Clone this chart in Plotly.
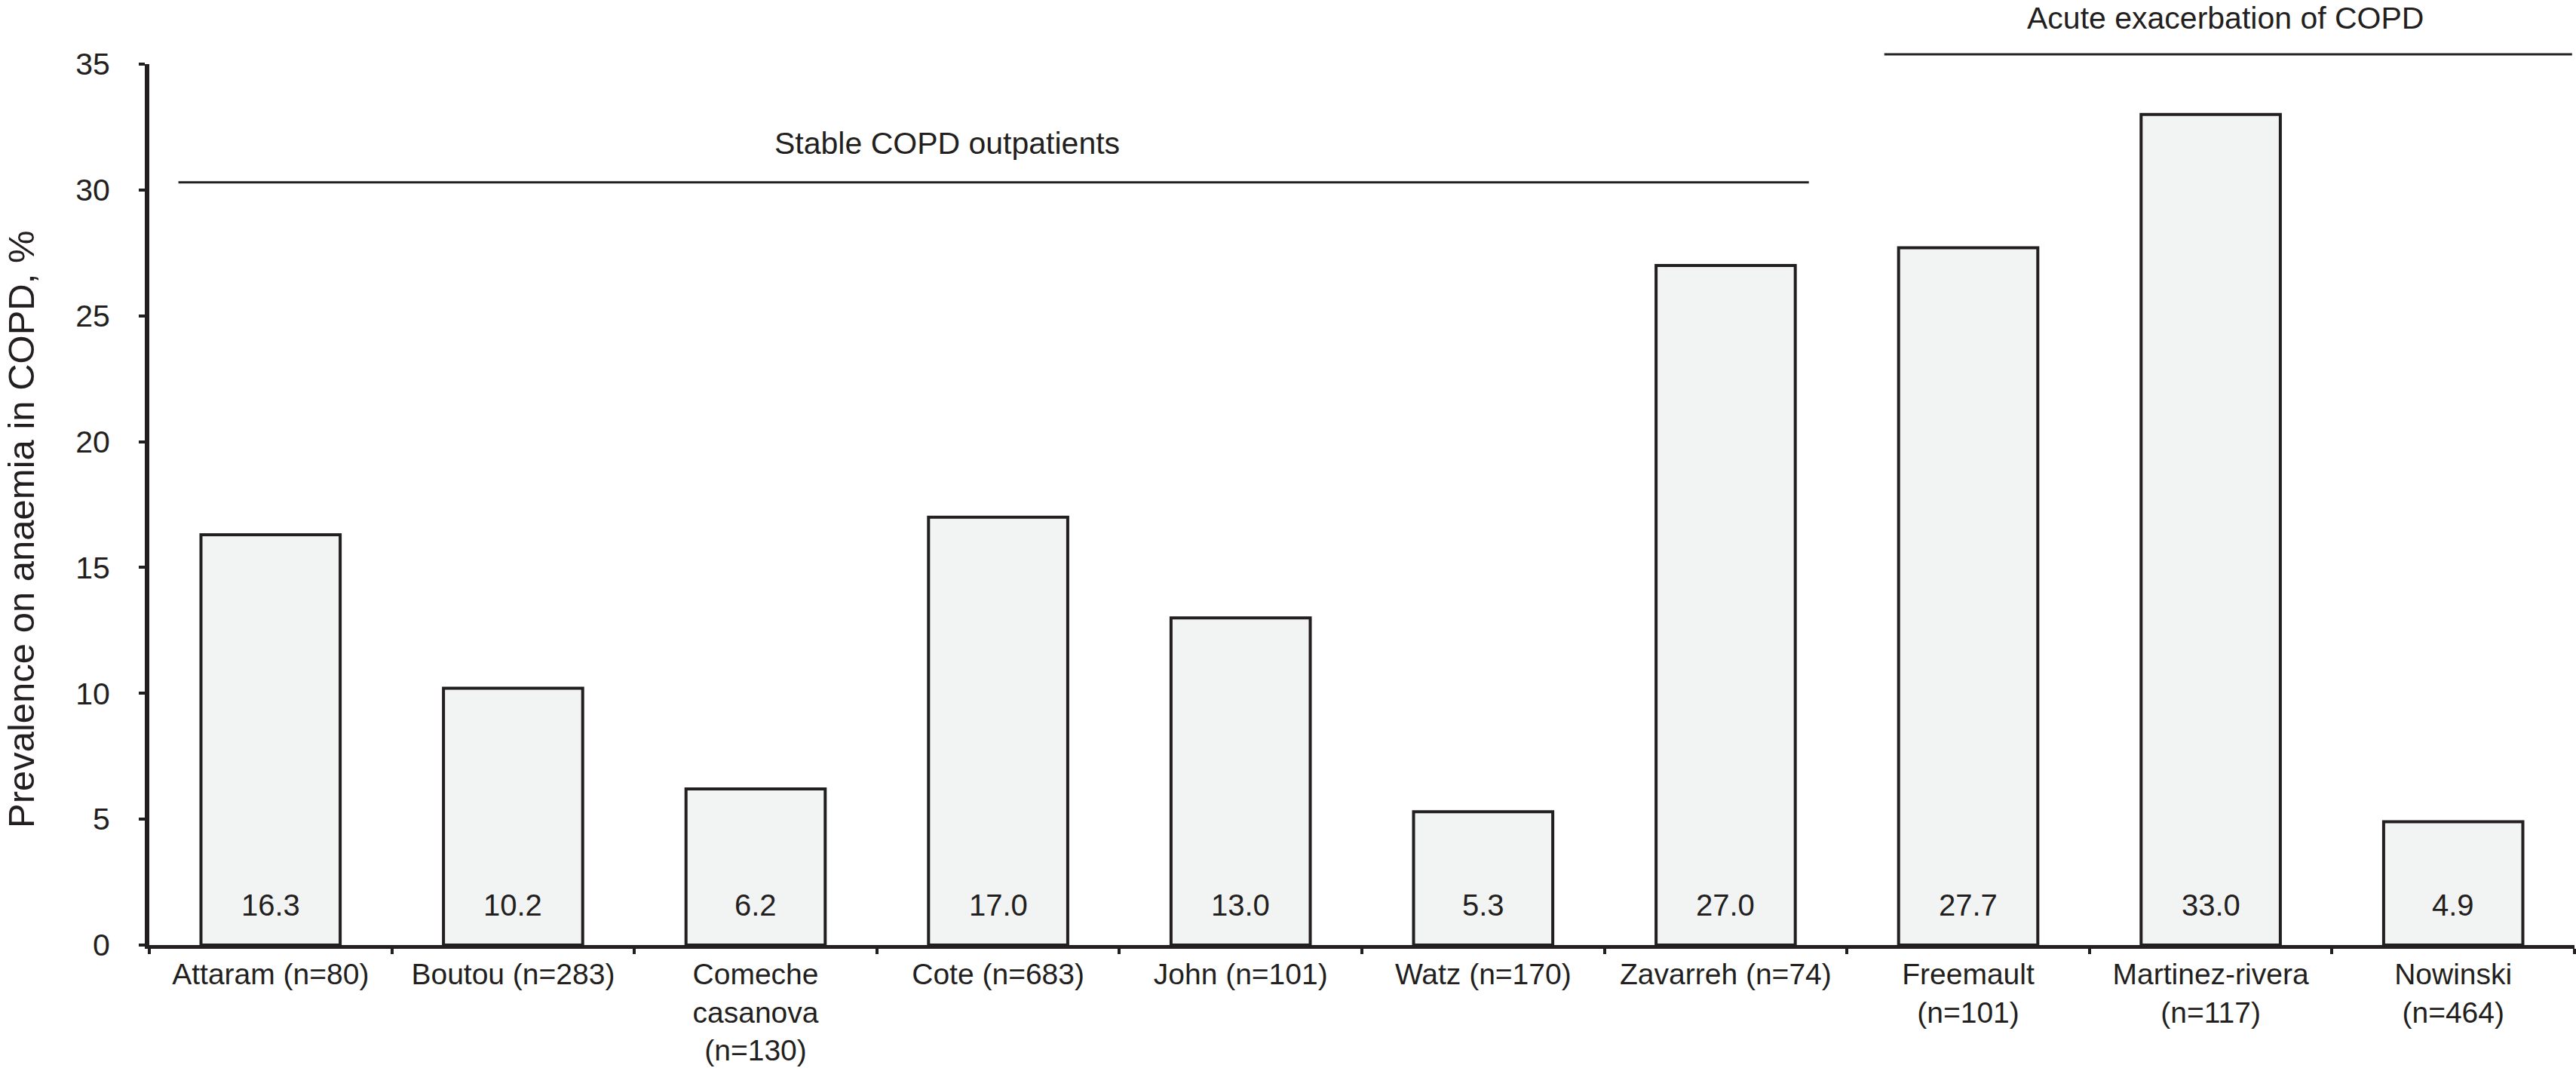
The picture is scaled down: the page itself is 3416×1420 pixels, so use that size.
import plotly.graph_objects as go

# ---- data ----
studies = ["Attaram (n=80)", "Boutou (n=283)", "Comeche<br>casanova<br>(n=130)",
           "Cote (n=683)", "John (n=101)", "Watz (n=170)", "Zavarreh (n=74)",
           "Freemault<br>(n=101)", "Martinez-rivera<br>(n=117)", "Nowinski<br>(n=464)"]
prevalence = [16.3, 10.2, 6.2, 17.0, 13.0, 5.3, 27.0, 27.7, 33.0, 4.9]
y_tick_values = [0, 5, 10, 15, 20, 25, 30, 35]
group_names = ["Stable COPD outpatients", "Acute exacerbation of COPD"]
group_first = [0, 7]
group_last = [6, 9]
y_title = "Prevalence on anaemia in COPD, %"

# ---- style ----
FONT = "Liberation Sans, Arial, Helvetica, sans-serif"
INK = "#231f20"
W, H = 3416, 1420
ML, MR, MT, MB = 198, 2, 85, 167

fig = go.Figure()
fig.add_trace(go.Bar(
    x=studies, y=prevalence, width=0.574,
    marker=dict(color="#f2f4f3", line=dict(color=INK, width=4)),
    hoverinfo="x+y", showlegend=False,
))

# value labels near bar bottoms
for s, v in zip(studies, prevalence):
    fig.add_annotation(x=s, y=0, xref="x", yref="y", text=f"{v:.1f}",
                       showarrow=False, yanchor="middle", yshift=53,
                       font=dict(family=FONT, size=40, color=INK))

# group 1: stable outpatients (inside plot area)
fig.add_shape(type="line", xref="x", yref="y",
              x0=group_first[0] - 0.5 + 0.12, x1=group_last[0] + 0.5 - 0.157,
              y0=30.3, y1=30.3, line=dict(color=INK, width=3))
fig.add_annotation(x=(group_first[0] + group_last[0]) / 2 - 0.21, y=31.85,
                   xref="x", yref="y", text=group_names[0], showarrow=False,
                   yanchor="middle", font=dict(family=FONT, size=41, color=INK))
# group 2: acute exacerbation (above plot area)
fig.add_shape(type="line", xref="x", yref="paper",
              x0=group_first[1] - 0.5 + 0.154, x1=group_last[1] + 0.5 - 0.01,
              y0=1.0111, y1=1.0111, line=dict(color=INK, width=3))
fig.add_annotation(x=(group_first[1] + group_last[1]) / 2 + 0.06, y=1.052,
                   xref="x", yref="paper", text=group_names[1], showarrow=False,
                   yanchor="middle", font=dict(family=FONT, size=41, color=INK))

# y-axis title (as annotation for exact placement)
fig.add_annotation(text=y_title, textangle=-90, showarrow=False,
                   xref="paper", x=0, xanchor="center", xshift=-170,
                   yref="paper", y=0.4717, yanchor="middle",
                   font=dict(family=FONT, size=49, color=INK))

fig.update_layout(
    width=W, height=H, autosize=False,
    margin=dict(l=ML, r=MR, t=MT, b=MB, pad=0, autoexpand=False),
    paper_bgcolor="white", plot_bgcolor="white",
    font=dict(family=FONT, size=41, color=INK),
)
fig.update_xaxes(
    type="category", range=[-0.5, len(studies) - 0.5], automargin=False,
    showline=True, linecolor=INK, linewidth=5,
    ticks="outside", tickson="boundaries", ticklen=7, tickwidth=4, tickcolor=INK,
    tickfont=dict(family=FONT, size=39, color=INK), ticklabelstandoff=0,
    showgrid=False, zeroline=False,
)
fig.update_yaxes(
    range=[0, 35], tickvals=y_tick_values, automargin=False,
    showline=True, linecolor=INK, linewidth=6,
    ticks="outside", ticklen=8, tickwidth=4, tickcolor=INK,
    tickfont=dict(family=FONT, size=41, color=INK), ticklabelstandoff=30,
    showgrid=False, zeroline=False,
)

fig.write_html("out.html", config={"displayModeBar": False},
               post_script="document.body.style.margin='0';document.body.style.overflow='hidden';")
